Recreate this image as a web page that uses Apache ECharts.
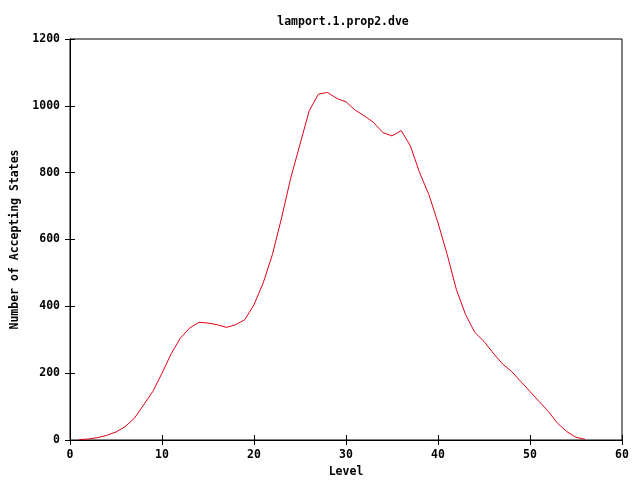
<!DOCTYPE html>
<html><head><meta charset="utf-8">
<script src="https://cdn.jsdelivr.net/npm/echarts@6/dist/echarts.min.js"></script>
<style>html,body{margin:0;padding:0;background:#fff}#c{width:640px;height:480px}</style>
</head><body><div id="c"></div>
<script>
const title = "lamport.1.prop2.dve";
const xLabel = "Level";
const yLabel = "Number of Accepting States";
const levels = [1,2,3,4,5,6,7,8,9,10,11,12,13,14,15,16,17,18,19,20,21,22,23,24,25,26,27,28,29,30,31,32,33,34,35,36,37,38,39,40,41,42,43,44,45,46,47,48,49,50,51,52,53,54,55,56];
const accepting = [1,3,7,14,24,40,65,105,145,200,258,305,335,352,350,345,337,345,360,405,470,555,665,785,885,985,1035,1040,1022,1012,987,970,950,920,910,926,880,800,735,650,555,450,375,322,295,260,228,205,175,145,115,85,50,25,8,2];

const seriesData = levels.map((l,i)=>[l, accepting[i]]);
const font = "DejaVu Sans Mono";
const fs = 11.5;
const chart = echarts.init(document.getElementById('c'), null, {renderer:'canvas'});
const lineStyle = {color:'#000', width:1};
const txt = {fontFamily:font, fontSize:fs, fontWeight:'bold', color:'#000'};
chart.setOption({
  animation:false,
  backgroundColor:'#fff',
  title:{text:title, left:338, top:11, textAlign:'center', textStyle:txt},
  grid:{left:70, right:18, top:39, bottom:40, show:true, borderColor:'#000', borderWidth:1,
    containLabel:false, outerBoundsMode:'none'},
  xAxis:[{type:'value', min:0, max:60, interval:10, name:xLabel, nameLocation:'middle', nameGap:26,
    nameTextStyle:txt,
    axisLine:{show:true, lineStyle}, axisTick:{inside:true, length:5, lineStyle},
    axisLabel:Object.assign({margin:9, formatter:v=>String(v)}, txt),
    splitLine:{show:false}},
   {type:'value', position:'top', min:0, max:60, interval:10,
    axisLine:{show:true, lineStyle}, axisTick:{inside:true, length:5, lineStyle},
    axisLabel:{show:false}, splitLine:{show:false}}],
  yAxis:[{type:'value', min:0, max:1200, interval:200, name:yLabel, nameLocation:'middle', nameGap:49,
    nameTextStyle:txt,
    axisLine:{show:true, lineStyle}, axisTick:{inside:true, length:5, lineStyle},
    axisLabel:Object.assign({margin:10, formatter:v=>String(v)}, txt),
    splitLine:{show:false}},
   {type:'value', position:'right', min:0, max:1200, interval:200,
    axisLine:{show:true, lineStyle}, axisTick:{inside:true, length:5, lineStyle},
    axisLabel:{show:false}, splitLine:{show:false}}],
  series:[{type:'line', data:seriesData, showSymbol:false, symbol:'none',
    lineStyle:{color:'#e0001a', width:1}, smooth:false}]
});
</script></body></html>
